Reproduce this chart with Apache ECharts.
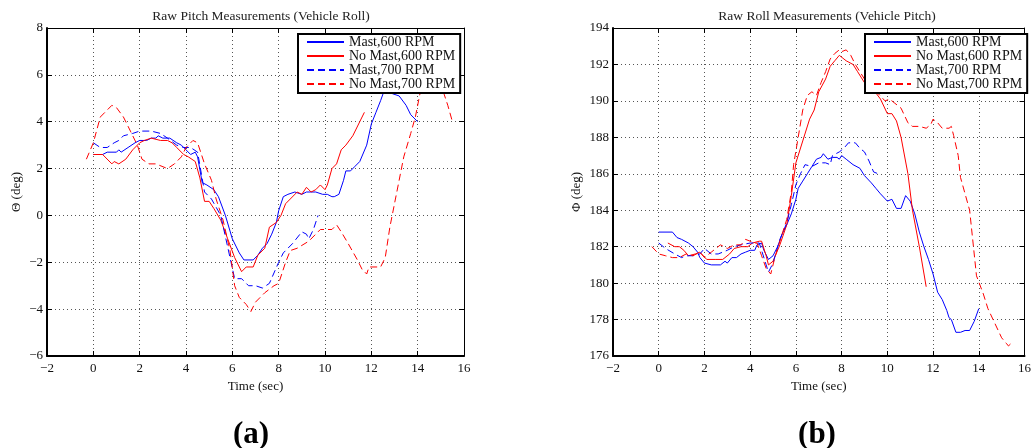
<!DOCTYPE html>
<html>
<head>
<meta charset="utf-8">
<script src="https://cdn.jsdelivr.net/npm/echarts@6/dist/echarts.min.js"></script>
<style>
html, body { margin: 0; padding: 0; background: #fff; }
#chart { width: 1034px; height: 448px; }
</style>
</head>
<body>
<div id="chart"></div>
<script>
// series names (legend)
const seriesNames = ['Mast,600 RPM', 'No Mast,600 RPM', 'Mast,700 RPM', 'No Mast,700 RPM'];
const timeTicks = [-2, 0, 2, 4, 6, 8, 10, 12, 14, 16];

// (a) pitch, [time sec, deg]
const pitchMast600 = [[0,2.6],[0.4,2.6],[0.6,2.7],[1.0,2.7],[1.1,2.8],[1.2,2.7],[1.5,2.9],[1.8,3.1],[2.0,3.2],[2.3,3.2],[2.5,3.3],[2.7,3.3],[2.8,3.4],[3.0,3.3],[3.3,3.3],[3.6,3.1],[3.8,3.0],[4.0,2.8],[4.2,2.6],[4.4,2.7],[4.5,2.5],[4.7,1.4],[4.9,1.3],[5.2,1.1],[5.4,0.8],[5.7,0.0],[6.0,-1.0],[6.3,-1.6],[6.5,-1.9],[6.9,-1.9],[7.1,-1.7],[7.3,-1.4],[7.5,-1.2],[7.7,-0.8],[7.9,-0.3],[8.0,0.2],[8.2,0.8],[8.4,0.9],[8.7,1.0],[9.0,0.9],[9.2,1.0],[9.6,1.0],[9.9,0.9],[10.1,0.9],[10.3,0.8],[10.4,0.8],[10.6,0.9],[10.8,1.5],[10.9,1.9],[11.1,1.9],[11.3,2.1],[11.5,2.3],[11.8,3.0],[12.0,3.9],[12.2,4.4],[12.4,4.9],[12.6,5.45],[12.8,5.3],[12.9,5.2],[13.2,5.1],[13.5,4.7],[13.7,4.3],[14.0,4.0]];
const pitchNoMast600 = [[0,2.6],[0.4,2.6],[0.8,2.2],[0.9,2.3],[1.1,2.2],[1.4,2.4],[1.7,2.8],[2.0,3.1],[2.2,3.2],[2.5,3.3],[2.9,3.2],[3.2,3.2],[3.4,3.1],[3.6,2.9],[3.9,2.6],[4.1,2.5],[4.4,2.3],[4.6,1.6],[4.8,0.6],[5.0,0.6],[5.2,0.3],[5.5,-0.2],[5.8,-1.0],[6.1,-1.8],[6.4,-2.4],[6.6,-2.2],[6.9,-2.2],[7.1,-1.7],[7.4,-1.4],[7.6,-0.5],[7.9,-0.3],[8.1,0.0],[8.3,0.5],[8.5,0.7],[8.8,1.0],[9.0,0.9],[9.2,1.2],[9.4,1.0],[9.6,1.1],[9.8,1.3],[10.0,1.1],[10.1,1.3],[10.3,2.0],[10.5,2.2],[10.7,2.8],[10.9,3.0],[11.2,3.4],[11.5,4.0],[11.7,4.4]];
const pitchMast700 = [[0,3.1],[0.3,2.9],[0.6,2.9],[0.9,3.1],[1.1,3.2],[1.3,3.4],[1.7,3.5],[2.0,3.6],[2.5,3.6],[2.9,3.5],[3.2,3.3],[3.6,3.0],[3.9,2.9],[4.2,2.9],[4.5,2.7],[4.8,1.0],[5.1,0.7],[5.5,0.0],[5.9,-1.8],[6.1,-2.7],[6.4,-2.7],[6.7,-3.0],[7.0,-3.0],[7.3,-3.1],[7.6,-2.9],[8.0,-2.0],[8.2,-1.6],[8.6,-1.2],[9.0,-0.7],[9.2,-0.8],[9.3,-1.0],[9.5,-0.6],[9.7,0.0]];
const pitchNoMast700 = [[-0.3,2.4],[0,3.1],[0.3,4.2],[0.6,4.5],[0.8,4.7],[1.0,4.6],[1.3,4.2],[1.6,3.6],[1.9,3.0],[2.1,2.4],[2.4,2.2],[2.7,2.2],[3.2,2.0],[3.5,2.2],[3.8,2.5],[4.0,2.9],[4.3,3.2],[4.5,3.1],[4.8,2.2],[5.1,1.5],[5.3,0.7],[5.6,-0.2],[5.9,-1.5],[6.1,-3.0],[6.3,-3.5],[6.6,-3.8],[6.8,-4.1],[7.0,-3.7],[7.4,-3.3],[7.8,-3.0],[8.0,-2.9],[8.3,-2.0],[8.5,-1.5],[8.8,-1.4],[9.3,-1.1],[9.6,-0.8],[9.8,-0.6],[10.0,-0.6],[10.3,-0.6],[10.5,-0.4],[10.7,-0.7],[11.0,-1.2],[11.4,-1.9],[11.6,-2.3],[11.8,-2.5],[11.9,-2.2],[12.4,-2.2],[12.6,-1.8],[12.8,-0.5],[13.0,0.5],[13.2,1.5],[13.4,2.5],[13.7,3.5],[13.9,4.2],[14.1,5.2],[14.3,6.2],[14.6,7.0],[14.9,6.4],[15.1,5.3],[15.3,4.7],[15.5,4.0]];

// (b) roll, [time sec, deg]
const rollMast600 = [[0,182.8],[0.6,182.8],[0.8,182.5],[1.0,182.4],[1.3,182.2],[1.5,182.0],[1.7,181.7],[1.8,181.4],[2.0,181.1],[2.3,181.0],[2.7,181.0],[2.9,181.2],[3.0,181.1],[3.2,181.4],[3.4,181.4],[3.6,181.6],[3.8,181.7],[4.0,181.8],[4.2,181.8],[4.3,182.1],[4.5,182.2],[4.6,181.8],[4.8,181.3],[5.0,181.5],[5.2,182.0],[5.4,182.7],[5.6,183.2],[5.8,183.8],[6.0,184.6],[6.1,185.2],[6.3,185.6],[6.5,186.0],[6.7,186.4],[6.9,186.8],[7.1,186.9],[7.2,187.1],[7.4,186.8],[7.6,186.9],[7.8,186.9],[7.9,186.8],[8.0,187.0],[8.2,186.8],[8.5,186.5],[8.8,186.3],[9.0,185.9],[9.3,185.5],[9.5,185.2],[9.7,184.9],[10.0,184.5],[10.2,184.6],[10.4,184.1],[10.6,184.1],[10.8,184.8],[11.0,184.5],[11.2,183.8],[11.4,182.8],[11.6,182.0],[11.8,181.3],[12.0,180.5],[12.2,179.5],[12.4,179.1],[12.6,178.5],[12.7,178.1],[12.8,178.0],[13.0,177.3],[13.2,177.3],[13.4,177.4],[13.6,177.4],[13.8,177.9],[14.0,178.6]];
const rollNoMast600 = [[0.4,182.2],[0.7,182.0],[0.9,182.0],[1.1,181.8],[1.3,181.5],[1.6,181.6],[1.8,181.7],[2.1,181.3],[2.5,181.3],[2.8,181.3],[3.1,181.6],[3.3,181.9],[3.6,182.0],[3.9,182.0],[4.1,182.2],[4.4,182.3],[4.5,182.3],[4.7,181.5],[4.8,181.0],[5.0,181.2],[5.3,182.1],[5.6,183.2],[5.8,184.8],[6.0,186.6],[6.3,187.8],[6.6,189.0],[6.8,189.5],[7.0,190.5],[7.3,191.2],[7.5,191.9],[7.7,192.2],[7.9,192.5],[8.2,192.2],[8.5,192.0],[8.7,191.6],[9.0,191.0],[9.4,190.6],[9.7,190.1],[10.0,189.3],[10.2,189.3],[10.4,188.9],[10.6,188.0],[10.9,186.0],[11.1,184.0],[11.4,182.0],[11.7,179.8]];
const rollMast700 = [[0,182.2],[0.3,181.9],[0.7,181.6],[1.0,181.4],[1.2,181.5],[1.5,181.5],[1.8,181.6],[2.0,181.9],[2.3,181.6],[2.6,181.6],[3.0,181.8],[3.3,182.0],[3.6,182.1],[4.0,182.2],[4.4,182.2],[4.7,181.0],[4.8,180.6],[5.0,181.1],[5.3,182.4],[5.6,183.3],[5.8,184.3],[6.0,185.4],[6.2,186.0],[6.4,186.5],[6.7,186.4],[7.0,186.6],[7.3,186.6],[7.5,186.5],[7.6,187.0],[7.9,187.2],[8.0,187.3],[8.1,187.4],[8.3,187.7],[8.6,187.7],[8.8,187.4],[9.0,187.2],[9.2,186.7],[9.4,186.1],[9.6,186.0]];
const rollNoMast700 = [[-0.3,182.0],[0,181.6],[0.3,181.5],[0.6,181.4],[0.9,181.4],[1.2,181.6],[1.5,181.5],[1.8,181.7],[2.0,181.4],[2.3,181.7],[2.7,182.1],[3.0,181.9],[3.3,182.1],[3.6,182.1],[3.8,182.4],[4.2,182.2],[4.3,182.2],[4.5,181.5],[4.7,180.8],[4.9,180.5],[5.1,181.5],[5.4,182.7],[5.6,183.5],[5.8,185.0],[5.9,186.5],[6.1,188.0],[6.3,189.5],[6.5,190.3],[6.7,190.5],[6.9,190.3],[7.1,191.0],[7.3,191.6],[7.5,192.3],[7.7,192.6],[7.9,192.8],[8.0,192.7],[8.2,192.8],[8.4,192.5],[8.6,192.0],[8.8,191.6],[9.0,191.2],[9.3,190.6],[9.6,190.4],[9.9,190.0],[10.1,190.1],[10.3,189.9],[10.6,189.6],[10.9,188.8],[11.1,188.6],[11.4,188.6],[11.7,188.5],[11.9,188.7],[12.0,189.0],[12.2,188.8],[12.4,188.5],[12.7,188.5],[12.8,188.6],[12.9,188.1],[13.1,187.0],[13.2,185.8],[13.6,184.0],[13.9,180.4],[14.2,179.4],[14.4,178.6],[14.7,177.8],[15.0,177.0],[15.2,176.7],[15.3,176.55],[15.5,176.8]];

const serif = 'Liberation Serif';
const minus = v => (v < 0 ? '\u2212' + Math.abs(v) : String(v));

const chart = echarts.init(document.getElementById('chart'));

const gridDots = { show: true, lineStyle: { color: '#555', type: [1, 3], width: 1 } };
const tick = { show: true, inside: true, length: 5, lineStyle: { color: '#000' } };

// box axes per panel: bottom/left labelled, top/right mirrored with ticks only
function xAxes(grid) {
    const base = { type: 'value', gridIndex: grid, min: -2, max: 16, interval: 2, axisTick: tick };
    return [
        Object.assign({}, base, {
            position: 'bottom',
            axisLine: { show: true, onZero: false, lineStyle: { color: '#000', width: 2 } },
            name: 'Time (sec)', nameLocation: 'middle', nameGap: 19,
            nameTextStyle: { fontFamily: serif, fontSize: 13, color: '#111' },
            axisLabel: { fontFamily: serif, fontSize: 13, color: '#111', margin: 6, formatter: minus },
            splitLine: gridDots
        }),
        Object.assign({}, base, {
            position: 'top',
            axisLine: { show: true, onZero: false, lineStyle: { color: '#000', width: 1 } },
            axisLabel: { show: false }, splitLine: { show: false }
        })
    ];
}
function yAxes(grid, min, max, name, gap) {
    const base = { type: 'value', gridIndex: grid, min: min, max: max, interval: 2, axisTick: tick };
    return [
        Object.assign({}, base, {
            position: 'left',
            axisLine: { show: true, onZero: false, lineStyle: { color: '#000', width: 2 } },
            name: name, nameLocation: 'middle', nameGap: gap,
            nameTextStyle: { fontFamily: serif, fontSize: 13, color: '#111' },
            axisLabel: { fontFamily: serif, fontSize: 13, color: '#111', margin: 4, formatter: minus },
            splitLine: gridDots
        }),
        Object.assign({}, base, {
            position: 'right',
            axisLine: { show: true, onZero: false, lineStyle: { color: '#000', width: 1 } },
            axisLabel: { show: false }, splitLine: { show: false }
        })
    ];
}

const styles = [
    { color: '#0000ff', type: 'solid' },
    { color: '#ff0000', type: 'solid' },
    { color: '#0000ff', type: [7, 4] },
    { color: '#ff0000', type: [7, 4] }
];
function lines(data, xi, yi) {
    return data.map((d, i) => ({
        name: seriesNames[i], type: 'line', data: d,
        xAxisIndex: xi, yAxisIndex: yi,
        symbol: 'none', smooth: false, animation: false,
        lineStyle: { color: styles[i].color, width: 1, type: styles[i].type },
        itemStyle: { color: styles[i].color }
    }));
}

function legendAt(left) {
    return {
        data: seriesNames, orient: 'vertical', left: left, top: 34,
        backgroundColor: '#fff', borderColor: '#000', borderWidth: 2,
        padding: [1, 5, 2, 8], itemGap: 0, itemWidth: 37, itemHeight: 12,
        selectedMode: false,
        itemStyle: { color: 'transparent', borderColor: 'transparent', borderWidth: 0 },
        textStyle: { fontFamily: serif, fontSize: 14, color: '#111', lineHeight: 12.7 }
    };
}

chart.setOption({
    backgroundColor: '#fff',
    animation: false,
    title: [
        { text: 'Raw Pitch Measurements (Vehicle Roll)', left: 256, top: 4, textAlign: 'center',
          textStyle: { fontFamily: serif, fontSize: 13.5, fontWeight: 'normal', color: '#222' } },
        { text: 'Raw Roll Measurements (Vehicle Pitch)', left: 822, top: 4, textAlign: 'center',
          textStyle: { fontFamily: serif, fontSize: 13.5, fontWeight: 'normal', color: '#222' } },
        { text: '(a)', left: 246, top: 414, textAlign: 'center',
          textStyle: { fontFamily: serif, fontSize: 31, fontWeight: 'bold', color: '#000' } },
        { text: '(b)', left: 812, top: 414, textAlign: 'center',
          textStyle: { fontFamily: serif, fontSize: 31, fontWeight: 'bold', color: '#000' } }
    ],
    legend: [legendAt(298), legendAt(865)],
    grid: [
        { left: 47, right: 570, top: 28, bottom: 92 },
        { left: 613, right: 3, top: 28, bottom: 92 }
    ],
    xAxis: xAxes(0).concat(xAxes(1)),
    yAxis: yAxes(0, -6, 8, '\u0398 (deg)', 24).concat(yAxes(1, 176, 194, '\u03A6 (deg)', 30)),
    series: lines([pitchMast600, pitchNoMast600, pitchMast700, pitchNoMast700], 0, 0)
        .concat(lines([rollMast600, rollNoMast600, rollMast700, rollNoMast700], 2, 2))
});
</script>
</body>
</html>
